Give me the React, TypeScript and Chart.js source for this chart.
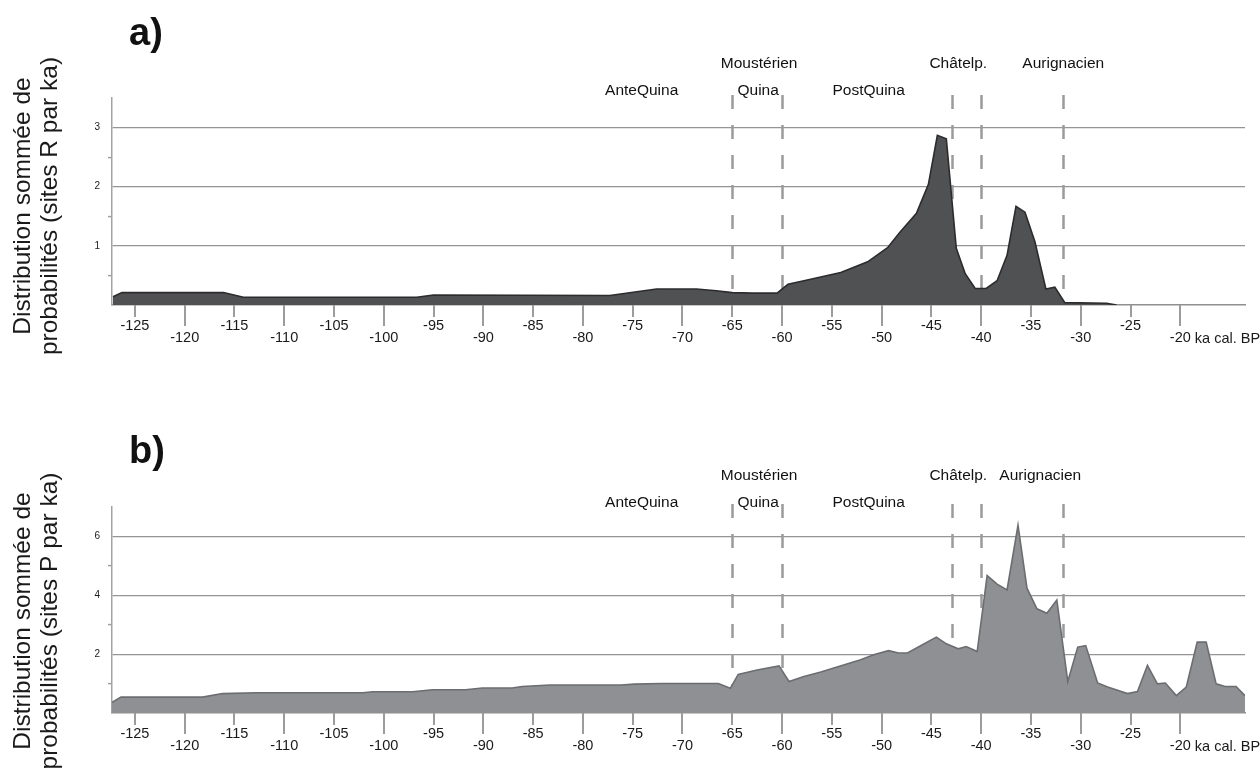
import React, { useEffect, useRef } from 'react';
import { Chart, registerables } from 'chart.js';

Chart.register(...registerables);

// ---------- data ----------
const X_TICKS = [-125, -120, -115, -110, -105, -100, -95, -90, -85, -80, -75, -70, -65, -60, -55, -50, -45, -40, -35, -30, -25, -20];
const PERIOD_BOUNDS = [-65, -60, -42.9, -40, -31.8];

// a) sites R
const R_KA = [-127.2, -126.3, -116.1, -114.1, -96.7, -95.0, -77.3, -72.6, -68.6, -66.6, -65.0, -63.0, -60.5, -59.4, -57.8, -54.1, -51.4, -49.4, -48.2, -46.5, -45.3, -44.4, -43.5, -42.5, -41.6, -40.6, -39.5, -38.4, -37.4, -36.5, -35.6, -34.6, -33.5, -32.6, -31.6, -27.4, -26.4];
const R_DENSITY = [0.14, 0.21, 0.21, 0.13, 0.13, 0.17, 0.16, 0.27, 0.27, 0.24, 0.21, 0.2, 0.2, 0.35, 0.41, 0.55, 0.73, 0.97, 1.22, 1.55, 2.04, 2.87, 2.81, 0.96, 0.53, 0.28, 0.28, 0.41, 0.84, 1.67, 1.57, 1.07, 0.27, 0.30, 0.04, 0.03, 0];

// b) sites P
const P_KA = [-127.4, -126.4, -118.2, -116.2, -112.8, -102.1, -101.1, -97.1, -95.1, -91.8, -90.1, -87.1, -86.1, -83.3, -76.2, -74.8, -72.2, -66.4, -65.2, -64.4, -62.5, -60.3, -59.3, -57.8, -56.1, -54.8, -52.1, -50.8, -49.3, -48.3, -47.4, -45.9, -44.5, -43.5, -42.3, -41.5, -40.4, -39.4, -38.4, -37.4, -36.3, -35.4, -34.4, -33.4, -32.4, -31.3, -30.3, -29.5, -28.3, -27.3, -25.3, -24.3, -23.3, -22.3, -21.5, -20.4, -19.4, -18.3, -17.4, -16.4, -15.5, -14.4, -13.5];
const P_DENSITY = [0.34, 0.54, 0.54, 0.66, 0.69, 0.69, 0.72, 0.72, 0.79, 0.79, 0.85, 0.85, 0.9, 0.95, 0.95, 0.98, 1.0, 1.0, 0.84, 1.31, 1.46, 1.6, 1.07, 1.24, 1.39, 1.53, 1.81, 1.98, 2.12, 2.04, 2.04, 2.32, 2.58, 2.35, 2.18, 2.26, 2.09, 4.67, 4.38, 4.18, 6.38, 4.24, 3.54, 3.39, 3.84, 1.07, 2.24, 2.29, 1.02, 0.88, 0.66, 0.73, 1.62, 0.99, 1.02, 0.59, 0.88, 2.41, 2.41, 0.99, 0.9, 0.9, 0.59];

const PERIOD_NAMES = ['AnteQuina', 'Moustérien', 'Quina', 'PostQuina', 'Châtelp.', 'Aurignacien'];
// label anchor (ka) and row for each panel
const PERIOD_KA_A = [-74.1, -62.3, -62.4, -51.3, -42.3, -31.75];
const PERIOD_KA_B = [-74.1, -62.3, -62.4, -51.3, -42.3, -34.06];
const PERIOD_ROW = [2, 1, 2, 2, 1, 1];

const X_MIN = -127.3;
const X_MAX = -13.5;
const FONT = "'Liberation Sans', Arial, Helvetica, sans-serif";

type PanelSpec = {
  letter: string;
  yTitle: string[];
  xs: number[];
  ys: number[];
  labelKa: number[];
  fill: string;
  stroke: string;
  yMax: number;
  yStep: number;
  gridEvery: number;
  height: number;
  top: number;
  padTop: number;
  xHeight: number;
  titleBaseline: number;
  yTitleCenter: number;
  row1: number;
  row2: number;
};

const isMult = (v: number, m: number) => Math.abs(v / m - Math.round(v / m)) < 1e-6;

function makePlugin(spec: PanelSpec) {
  return {
    id: 'overlay' + spec.letter,
    beforeDatasetsDraw(chart: any) {
      const { ctx, chartArea, scales } = chart;
      const xs = scales.x;
      ctx.save();
      ctx.strokeStyle = '#9b9b9b';
      ctx.lineWidth = 2.5;
      ctx.setLineDash([14, 16]);
      PERIOD_BOUNDS.forEach((b) => {
        const px = Math.round(xs.getPixelForValue(b)) + 0.5;
        ctx.beginPath();
        ctx.moveTo(px, chartArea.top - 3);
        ctx.lineTo(px, chartArea.bottom);
        ctx.stroke();
      });
      ctx.restore();
    },
    afterDraw(chart: any) {
      const { ctx, chartArea, scales } = chart;
      const xs = scales.x;
      ctx.save();
      // x tick marks (staggered lengths)
      ctx.strokeStyle = '#9c9c9c';
      ctx.lineWidth = 2;
      X_TICKS.forEach((v) => {
        const px = Math.round(xs.getPixelForValue(v));
        const len = isMult(v, 10) ? 21 : 12;
        ctx.beginPath();
        ctx.moveTo(px, chartArea.bottom);
        ctx.lineTo(px, chartArea.bottom + len);
        ctx.stroke();
      });
      // unit after last tick label
      ctx.fillStyle = '#1a1a1a';
      ctx.font = `14.5px ${FONT}`;
      ctx.textBaseline = 'middle';
      ctx.textAlign = 'left';
      const last = X_TICKS[X_TICKS.length - 1];
      const w = ctx.measureText(String(last)).width;
      ctx.fillText(' ka cal. BP', xs.getPixelForValue(last) + w / 2, chartArea.bottom + 33.5);

      // panel letter
      ctx.textBaseline = 'alphabetic';
      ctx.font = `bold 38px ${FONT}`;
      ctx.fillStyle = '#111';
      ctx.fillText(spec.letter, 129, spec.titleBaseline);

      // y title
      ctx.font = `24.5px ${FONT}`;
      ctx.fillStyle = '#1a1a1a';
      ctx.textAlign = 'center';
      [30, 57].forEach((bx, i) => {
        ctx.save();
        ctx.translate(bx, spec.yTitleCenter);
        ctx.rotate(-Math.PI / 2);
        ctx.fillText(spec.yTitle[i], 0, 0);
        ctx.restore();
      });

      // period labels
      ctx.font = `15.5px ${FONT}`;
      ctx.fillStyle = '#111';
      PERIOD_NAMES.forEach((name, i) => {
        const px = xs.getPixelForValue(spec.labelKa[i]);
        const y = PERIOD_ROW[i] === 1 ? spec.row1 : spec.row2;
        ctx.fillText(name, px, y);
      });
      ctx.restore();
    },
  };
}

function Panel({ spec }: { spec: PanelSpec }) {
  const ref = useRef<HTMLCanvasElement>(null);
  useEffect(() => {
    const canvas = ref.current;
    if (!canvas) return;
    const chart = new Chart(canvas, {
      type: 'line',
      data: {
        datasets: [
          {
            data: spec.xs.map((x, i) => ({ x, y: spec.ys[i] })),
            fill: 'origin',
            backgroundColor: spec.fill,
            borderColor: spec.stroke,
            borderWidth: 1.6,
            pointRadius: 0,
            tension: 0,
          },
        ],
      },
      options: {
        responsive: false,
        animation: false,
        devicePixelRatio: 1,
        events: [],
        layout: { padding: { top: spec.padTop, right: 15, left: 0, bottom: 0 } },
        plugins: { legend: { display: false }, tooltip: { enabled: false }, title: { display: false } },
        scales: {
          x: {
            type: 'linear',
            min: X_MIN,
            max: X_MAX,
            afterBuildTicks: (s: any) => {
              s.ticks = X_TICKS.map((v) => ({ value: v }));
            },
            afterFit: (s: any) => {
              s.height = spec.xHeight;
            },
            grid: { display: true, drawOnChartArea: false, drawTicks: false },
            border: { display: true, color: '#8f8f8f', width: 1.5 },
            ticks: {
              autoSkip: false,
              maxRotation: 0,
              minRotation: 0,
              padding: 14.75,
              color: '#1a1a1a',
              font: { family: FONT, size: 14.5, lineHeight: 0.862 },
              callback: (v: any) => (isMult(Number(v), 10) ? ['', String(v)] : String(v)),
            },
          },
          y: {
            type: 'linear',
            min: 0,
            max: spec.yMax,
            afterFit: (s: any) => {
              s.width = 112;
            },
            ticks: {
              stepSize: spec.yStep,
              autoSkip: false,
              padding: 8,
              color: '#1a1a1a',
              font: { family: FONT, size: 10 },
              callback: (v: any) => {
                const n = Number(v);
                return n > 0 && n < spec.yMax && isMult(n, spec.gridEvery) ? String(n) : '';
              },
            },
            grid: {
              drawTicks: true,
              tickLength: 4,
              lineWidth: 1.2,
              tickWidth: 1.5,
              color: (c: any) => {
                const n = c.tick ? c.tick.value : 0;
                return n > 0 && n < spec.yMax && isMult(n, spec.gridEvery) ? '#959595' : 'rgba(0,0,0,0)';
              },
              tickColor: (c: any) => {
                const n = c.tick ? c.tick.value : 0;
                return n > 0 && n < spec.yMax && !isMult(n, spec.gridEvery) ? '#a0a0a0' : 'rgba(0,0,0,0)';
              },
            },
            border: { display: true, color: '#a3a3a3', width: 1.5 },
          },
        },
      },
      plugins: [makePlugin(spec)],
    } as any);
    return () => chart.destroy();
  }, [spec]);
  return (
    <canvas
      ref={ref}
      width={1260}
      height={spec.height}
      style={{ position: 'absolute', left: 0, top: spec.top, width: 1260, height: spec.height, display: 'block' }}
    />
  );
}

const SPEC_A: PanelSpec = {
  letter: 'a)',
  yTitle: ['Distribution sommée de', 'probabilités (sites R par ka)'],
  xs: R_KA,
  ys: R_DENSITY,
  labelKa: PERIOD_KA_A,
  fill: '#505153',
  stroke: '#2c2c2e',
  yMax: 3.5,
  yStep: 0.5,
  gridEvery: 1,
  height: 385,
  top: 0,
  padTop: 98,
  xHeight: 80,
  titleBaseline: 45,
  yTitleCenter: 206,
  row1: 68,
  row2: 95,
};

const SPEC_B: PanelSpec = {
  letter: 'b)',
  yTitle: ['Distribution sommée de', 'probabilités (sites P par ka)'],
  xs: P_KA,
  ys: P_DENSITY,
  labelKa: PERIOD_KA_B,
  fill: '#8f9094',
  stroke: '#6c6d70',
  yMax: 7,
  yStep: 1,
  gridEvery: 2,
  height: 384,
  top: 385,
  padTop: 122,
  xHeight: 56,
  titleBaseline: 78,
  yTitleCenter: 236,
  row1: 95,
  row2: 121.7,
};

export default function App() {
  return (
    <div style={{ position: 'absolute', left: 0, top: 0, width: 1260, height: 769, background: '#fff', overflow: 'hidden' }}>
      <Panel spec={SPEC_A} />
      <Panel spec={SPEC_B} />
    </div>
  );
}
